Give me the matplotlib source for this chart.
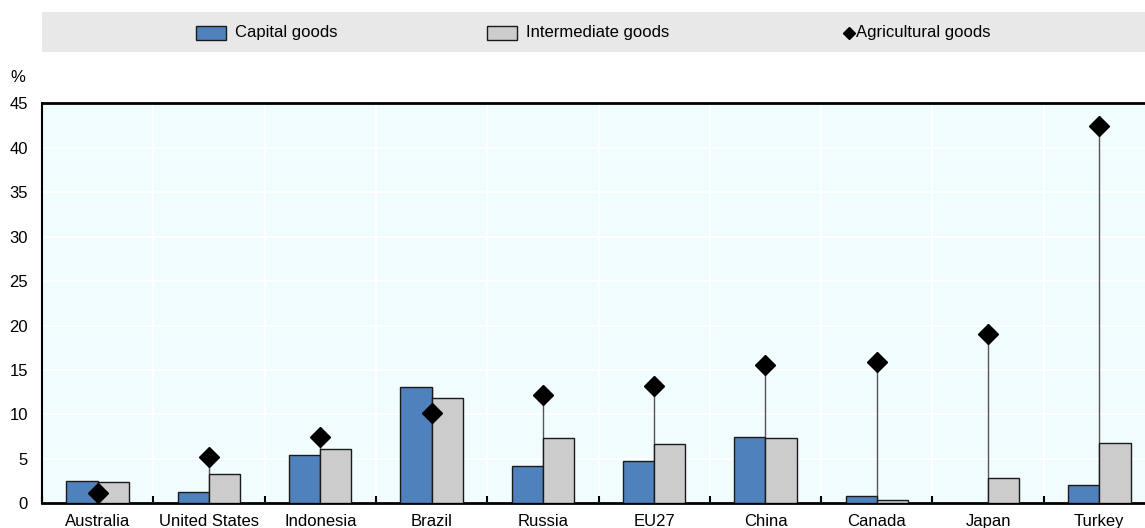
import matplotlib
matplotlib.use("Agg")
import matplotlib.pyplot as plt
import numpy as np
from matplotlib.patches import Rectangle

plt.rcParams['font.family'] = ['Liberation Sans', 'DejaVu Sans']

categories = ["Australia", "United States", "Indonesia", "Brazil", "Russia",
              "EU27", "China", "Canada", "Japan", "Turkey"]
capital = [2.5, 1.25, 5.4, 13.1, 4.2, 4.75, 7.5, 0.85, 0.0, 2.05]
intermediate = [2.45, 3.3, 6.1, 11.8, 7.3, 6.7, 7.4, 0.4, 2.8, 6.75]
agricultural = [1.15, 5.25, 7.5, 10.2, 12.2, 13.2, 15.6, 15.9, 19.0, 42.4]
yticks = [0, 5, 10, 15, 20, 25, 30, 35, 40, 45]
series_names = ['Capital goods', 'Intermediate goods', 'Agricultural goods']

W, H = 1145, 528
fig = plt.figure(figsize=(W / 100, H / 100), dpi=100)
ax_left, ax_bottom = 42 / W, (H - 503.3) / H
ax_w, ax_h = 1113 / W, 400 / H
ax = fig.add_axes([ax_left, ax_bottom, ax_w, ax_h])
ax.set_facecolor('#F1FCFF')

x = np.arange(len(categories))
bw = 0.28
cap_col = '#4F81BD'
int_col = '#CCCCCC'
edge = '#1A1A1A'

# high-low lines
lows = np.minimum(np.minimum(capital, intermediate), agricultural)
highs = np.maximum(np.maximum(capital, intermediate), agricultural)
ax.vlines(x, lows, highs, color='#555555', lw=1.0, zorder=2)

ax.bar(x - bw / 2, capital, bw, color=cap_col, edgecolor=edge, lw=1.0, zorder=3)
ax.bar(x + bw / 2, intermediate, bw, color=int_col, edgecolor=edge, lw=1.0, zorder=3)
ax.plot(x, agricultural, ls='none', marker='D', ms=10.5, color='black', zorder=4)

ax.set_xlim(-0.5, len(categories) - 0.5)
ax.set_ylim(0, 45)
ax.set_yticks(yticks)
ax.set_yticklabels([str(v) for v in yticks], fontsize=12)
ax.set_xticks(x)
ax.set_xticklabels(categories, fontsize=12)
ax.tick_params(axis='x', length=0, pad=8)
ax.tick_params(axis='y', length=0, pad=10)
ax.set_xticks(np.arange(len(categories) + 1) - 0.5, minor=True)
ax.tick_params(axis='x', which='minor', direction='in', length=5, width=1.5, color='black')

ax.grid(True, axis='y', color='white', lw=1.5, zorder=0)
ax.grid(True, axis='x', which='minor', color='white', lw=1.5, zorder=0)
ax.set_axisbelow(True)

for s in ['top', 'bottom']:
    ax.spines[s].set_linewidth(2.0)
    ax.spines[s].set_color('black')
ax.spines['left'].set_linewidth(1.5)
ax.spines['left'].set_color('black')
ax.spines['right'].set_visible(False)

fig.text(18 / W, 1 - 78 / H, '%', fontsize=12, ha='center', va='center')

# legend band (pixel coordinates)
band = fig.add_axes([42 / W, 1 - 52 / H, 1 - 42 / W, 40 / H])
band.set_facecolor('#E8E8E8')
band.set_xlim(42, W)
band.set_ylim(52, 12)
band.set_xticks([]); band.set_yticks([])
for s in band.spines.values():
    s.set_visible(False)

band.add_patch(Rectangle((196, 25.5), 30, 14, facecolor=cap_col, edgecolor=edge, lw=1.0))
band.text(235, 32.5, series_names[0], fontsize=12, va='center', ha='left')
band.add_patch(Rectangle((487, 25.5), 30, 14, facecolor=int_col, edgecolor=edge, lw=1.0))
band.text(526, 32.5, series_names[1], fontsize=12, va='center', ha='left')
band.plot([849], [32.5], marker='D', ms=6.5, color='black', ls='none')
band.text(856, 32.5, series_names[2], fontsize=12, va='center', ha='left')

fig.savefig('out.png', dpi=100)
